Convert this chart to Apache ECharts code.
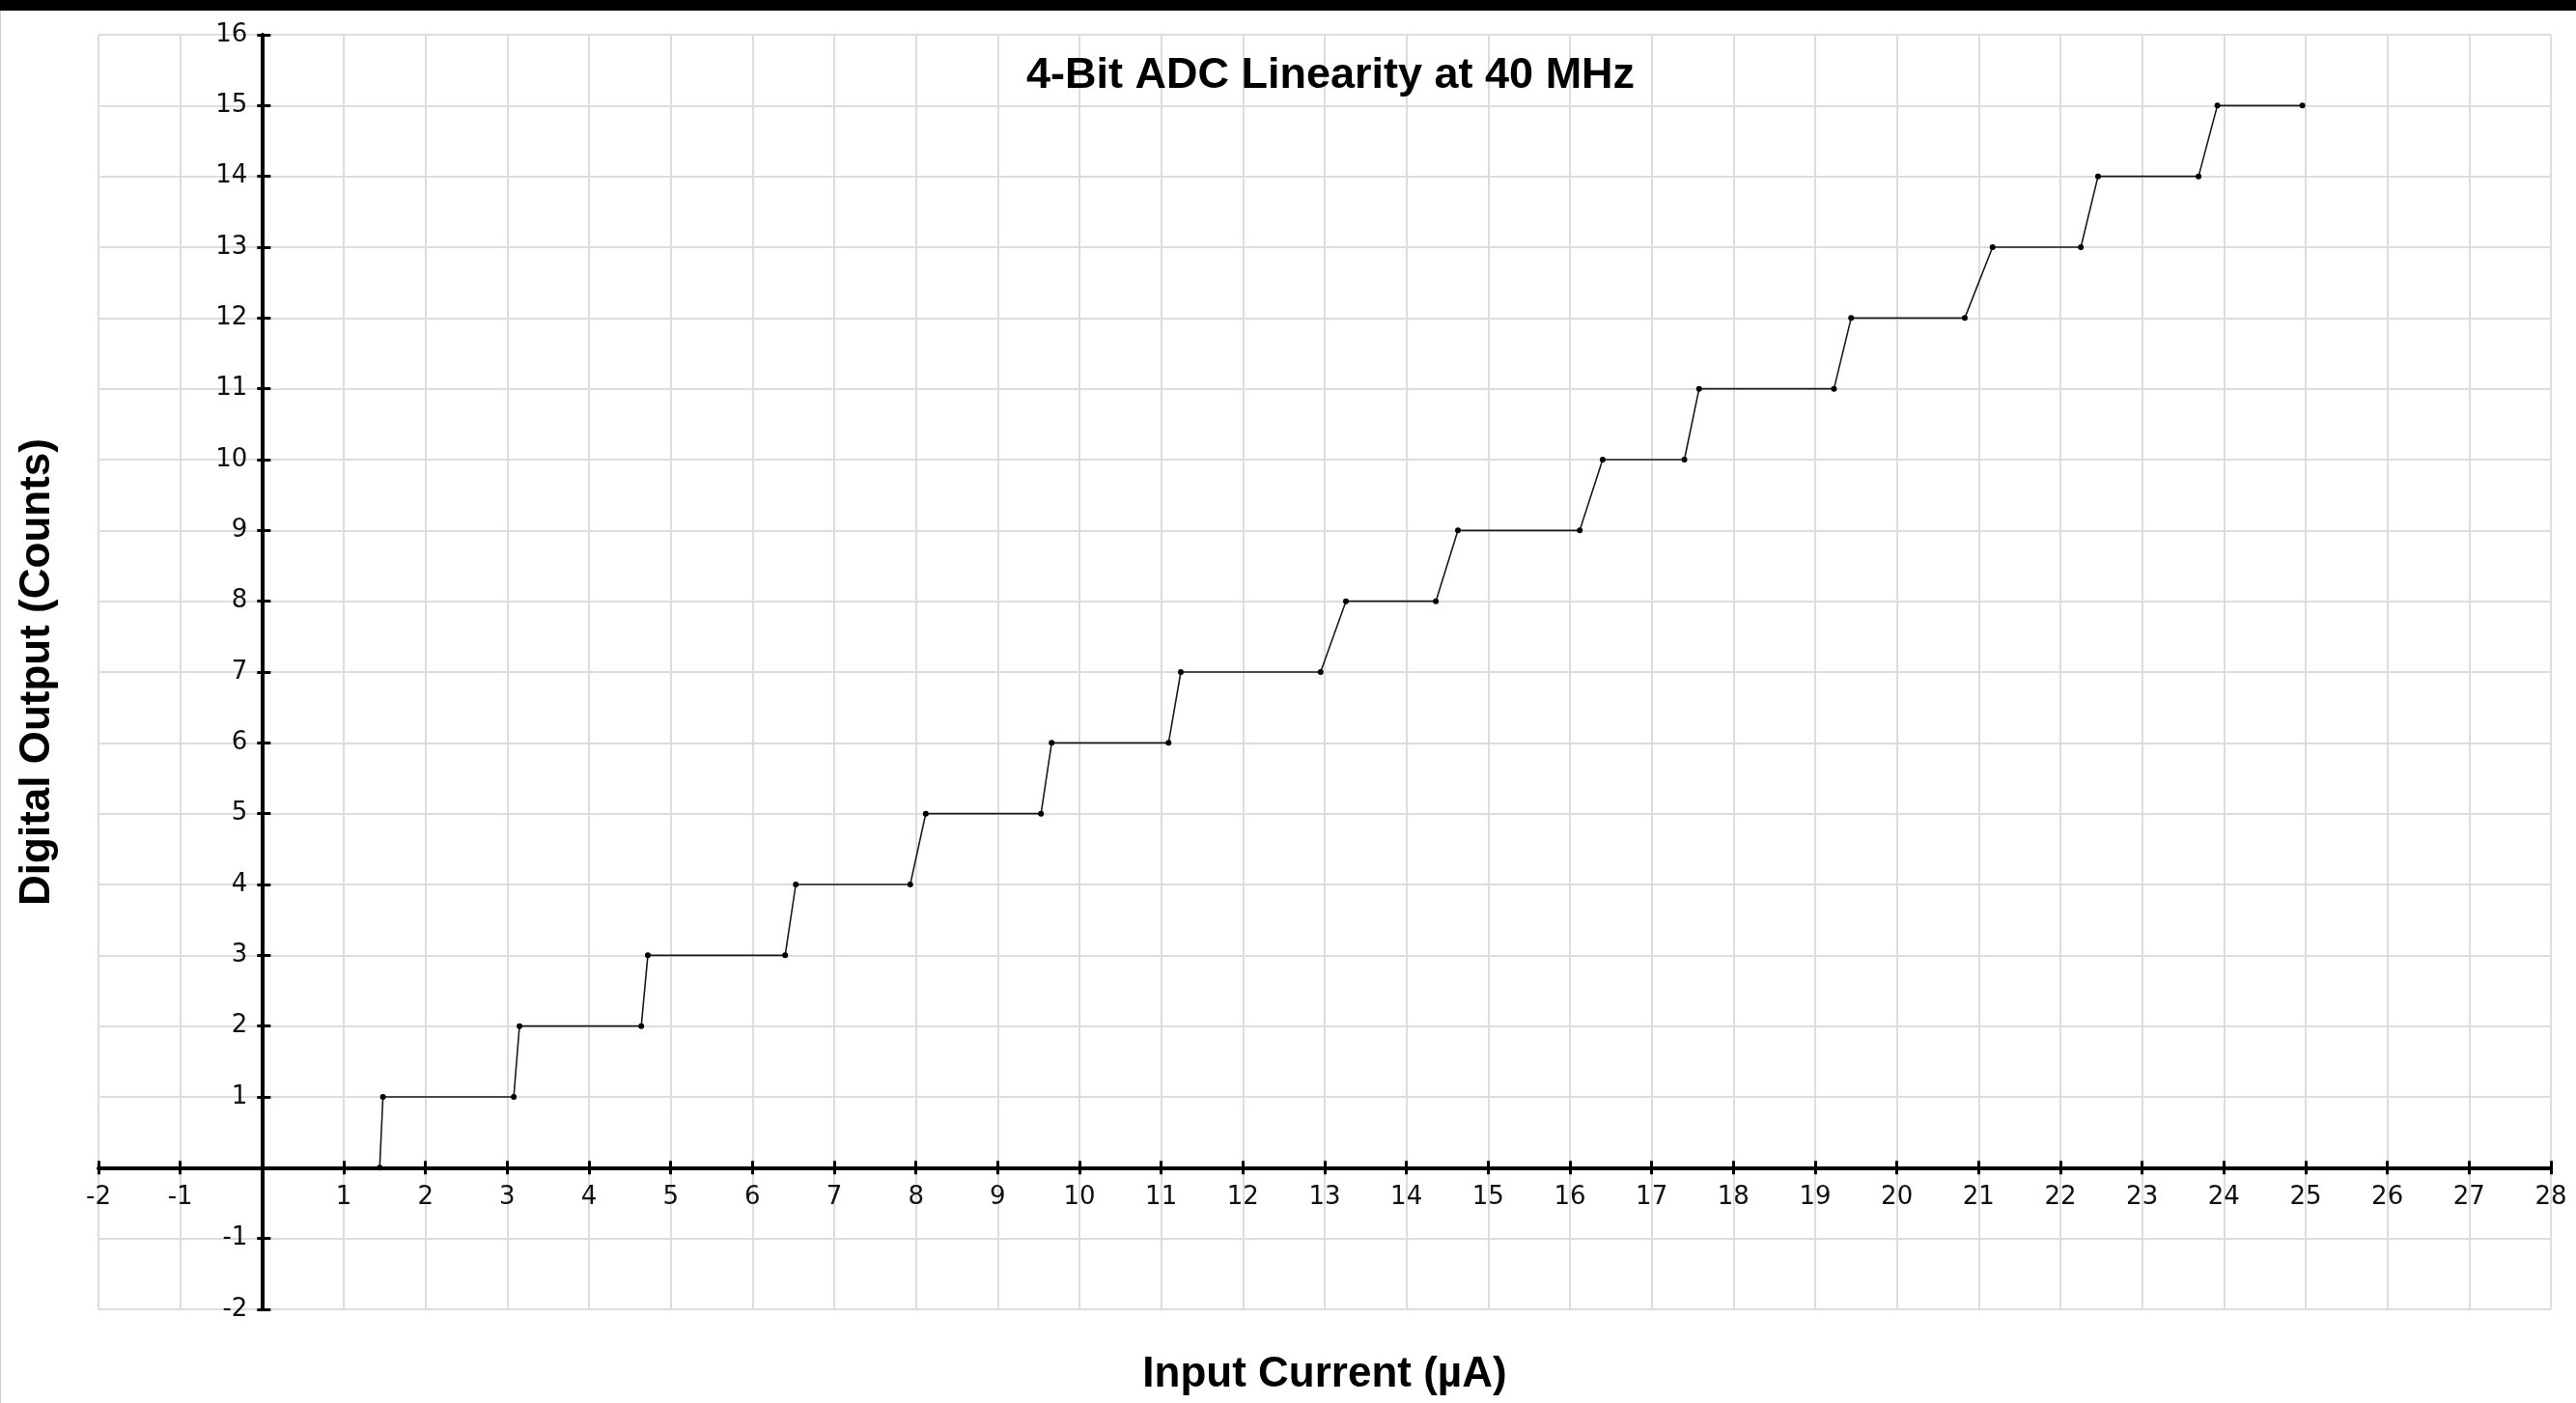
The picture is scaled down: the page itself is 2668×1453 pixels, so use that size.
<!DOCTYPE html>
<html>
<head>
<meta charset="utf-8">
<title>4-Bit ADC Linearity</title>
<script src="https://cdn.jsdelivr.net/npm/echarts@6/dist/echarts.min.js"></script>
<style>
    html, body { margin: 0; padding: 0; background: #fff; }
    #main { width: 2668px; height: 1453px; }
</style>
</head>
<body>
<div id="main"></div>
<script>
// measured transfer curve: input current (uA) -> output code
var inputCurrent = [1.44, 1.48, 3.08, 3.15, 4.64, 4.72, 6.40, 6.53, 7.93, 8.12,
    9.53, 9.66, 11.09, 11.24, 12.95, 13.26, 14.36, 14.63, 16.12, 16.40,
    17.40, 17.58, 19.23, 19.44, 20.83, 21.17, 22.25, 22.46, 23.69, 23.92, 24.96];
var digitalOutput = [0, 1, 1, 2, 2, 3, 3, 4, 4, 5,
    5, 6, 6, 7, 7, 8, 8, 9, 9, 10,
    10, 11, 11, 12, 12, 13, 13, 14, 14, 15, 15];

var xMin = -2, xMax = 28;
var yMin = -2, yMax = 16;

var points = inputCurrent.map(function (x, i) { return [x, digitalOutput[i]]; });

// grid box in pixels
var gridLeft = 102, gridRight = 26, gridTop = 36, gridBottom = 97;
var plotW = 2668 - gridLeft - gridRight;
var plotH = 1453 - gridTop - gridBottom;
// axes cross at zero: shift them in from the grid edges with offset
var xAxisShift = -plotH * (0 - yMin) / (yMax - yMin);
var yAxisShift = -plotW * (0 - xMin) / (xMax - xMin);

var chart = echarts.init(document.getElementById('main'));

function hideZero(v) {
    return v === 0 ? '' : String(v);
}

var labelStyle = {
    color: '#111',
    fontFamily: 'DejaVu Sans',
    fontSize: 26,
    formatter: hideZero,
};
var nameStyle = {
    color: '#000',
    fontFamily: 'Liberation Sans',
    fontWeight: 'bold',
    fontSize: 44,
    lineHeight: 44,
};
var axisLineStyle = { color: '#000', width: 4 };
var tickStyle = { color: '#000', width: 3 };
var gridLineStyle = { color: '#dddddd', width: 2 };

var option = {
    animation: false,
    backgroundColor: '#fff',
    title: {
        text: '4-Bit ADC Linearity at 40 MHz',
        left: 1058,
        top: 51,
        textStyle: {
            color: '#000',
            fontFamily: 'Liberation Sans',
            fontWeight: 'bold',
            fontSize: 45,
            lineHeight: 45,
        },
    },
    graphic: [
        { type: 'rect', shape: { x: 0, y: 0, width: 2668, height: 11 }, style: { fill: '#000' }, z: 100 },
        { type: 'rect', shape: { x: 0, y: 11, width: 1, height: 1442 }, style: { fill: '#d0d0d0' }, z: 100 },
    ],
    grid: {
        left: gridLeft,
        right: gridRight,
        top: gridTop,
        bottom: gridBottom,
        containLabel: false,
        outerBoundsMode: 'none',
    },
    xAxis: [
        {
            type: 'value',
            position: 'bottom',
            offset: xAxisShift,
            min: xMin,
            max: xMax,
            interval: 1,
            name: 'Input Current (µA)',
            nameLocation: 'middle',
            nameGap: 193,
            nameTextStyle: nameStyle,
            axisLine: { onZero: false, lineStyle: axisLineStyle },
            axisTick: { inside: false, length: 7, lineStyle: tickStyle },
            axisLabel: Object.assign({ margin: 18 }, labelStyle),
            splitLine: { show: true, lineStyle: gridLineStyle },
        },
        {
            // second copy only to draw the tick half above the line
            type: 'value',
            position: 'bottom',
            offset: xAxisShift,
            min: xMin,
            max: xMax,
            interval: 1,
            axisLine: { show: false, onZero: false },
            axisTick: { inside: true, length: 7, lineStyle: tickStyle },
            axisLabel: { show: false },
            splitLine: { show: false },
        },
    ],
    yAxis: [
        {
            type: 'value',
            position: 'left',
            offset: yAxisShift,
            min: yMin,
            max: yMax,
            interval: 1,
            name: 'Digital Output (Counts)',
            nameLocation: 'middle',
            nameGap: 210,
            nameTextStyle: nameStyle,
            axisLine: { onZero: false, lineStyle: axisLineStyle },
            axisTick: { inside: false, length: 5, lineStyle: tickStyle },
            axisLabel: Object.assign({ margin: 15 }, labelStyle),
            splitLine: { show: true, lineStyle: gridLineStyle },
        },
        {
            type: 'value',
            position: 'left',
            offset: yAxisShift,
            min: yMin,
            max: yMax,
            interval: 1,
            axisLine: { show: false, onZero: false },
            axisTick: { inside: true, length: 9, lineStyle: tickStyle },
            axisLabel: { show: false },
            splitLine: { show: false },
        },
    ],
    series: [
        {
            type: 'line',
            xAxisIndex: 0,
            yAxisIndex: 0,
            data: points,
            symbol: 'circle',
            symbolSize: 6,
            itemStyle: { color: '#000' },
            lineStyle: { color: '#1a1a1a', width: 1.6 },
            z: 5,
        },
    ],
};
option && chart.setOption(option);
</script>
</body>
</html>
